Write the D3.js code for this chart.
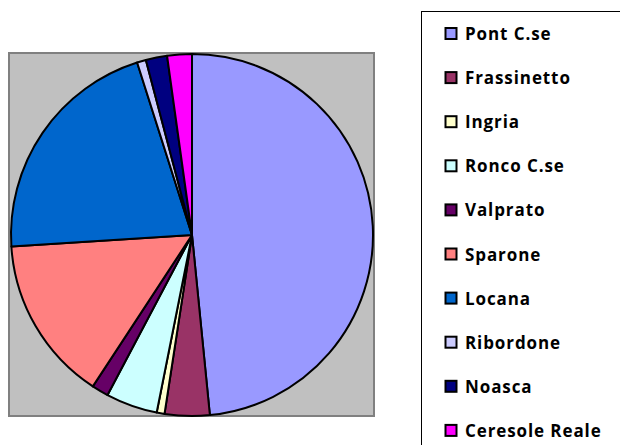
<!DOCTYPE html>
<html>
<head>
<meta charset="utf-8">
<script src="https://cdn.jsdelivr.net/npm/d3@7"></script>
<style>
  body { margin: 0; background: #fff; }
  svg { display: block; }
  .legend text { font-family: "Open Sans", "Noto Sans", sans-serif; font-weight: bold; font-size: 17px; fill: #000; }
</style>
</head>
<body>
<svg id="chart"></svg>
<script>
const width = 620, height = 445;
const categories = ['Pont C.se', 'Frassinetto', 'Ingria', 'Ronco C.se', 'Valprato',
                    'Sparone', 'Locana', 'Ribordone', 'Noasca', 'Ceresole Reale'];
const values = [48.4, 4.0, 0.7, 4.6, 1.5, 14.75, 21.1, 0.8, 1.9, 2.2];
const colors = ['#9999FF', '#993366', '#FFFFCC', '#CCFFFF', '#660066',
                '#FF8080', '#0066CC', '#CCCCFF', '#000080', '#FF00FF'];

const svg = d3.select('#chart')
  .attr('width', width)
  .attr('height', height);

// plot area
svg.append('rect')
  .attr('x', 9).attr('y', 53)
  .attr('width', 365).attr('height', 363)
  .attr('fill', '#C0C0C0')
  .attr('stroke', '#808080')
  .attr('stroke-width', 2);

const cx = 192, cy = 235, r = 181;
const pie = d3.pie().sort(null).value(d => d)(values);
const arc = d3.arc().innerRadius(0).outerRadius(r);

svg.append('g')
  .attr('transform', `translate(${cx},${cy})`)
  .selectAll('path')
  .data(pie)
  .enter()
    .append('path')
    .attr('d', arc)
    .attr('fill', (d, i) => colors[i])
    .attr('stroke', '#000')
    .attr('stroke-width', 2)
    .attr('stroke-linejoin', 'round');

// legend
svg.append('rect')
  .attr('x', 421.5).attr('y', 11.5)
  .attr('width', 210).attr('height', 450)
  .attr('fill', '#fff')
  .attr('stroke', '#000')
  .attr('stroke-width', 1);

const legend = svg.append('g').attr('class', 'legend')
  .selectAll('g')
  .data(categories)
  .enter()
    .append('g')
    .attr('transform', (d, i) => `translate(445,${34 + i * 44.1})`);

legend.append('rect')
  .attr('x', 0.5).attr('y', -6)
  .attr('width', 11).attr('height', 11)
  .attr('fill', (d, i) => colors[i])
  .attr('stroke', '#000')
  .attr('stroke-width', 2);

legend.append('text')
  .attr('x', 20).attr('y', 6)
  .style('letter-spacing', '0.9px')
  .text(d => d);
</script>
</body>
</html>
